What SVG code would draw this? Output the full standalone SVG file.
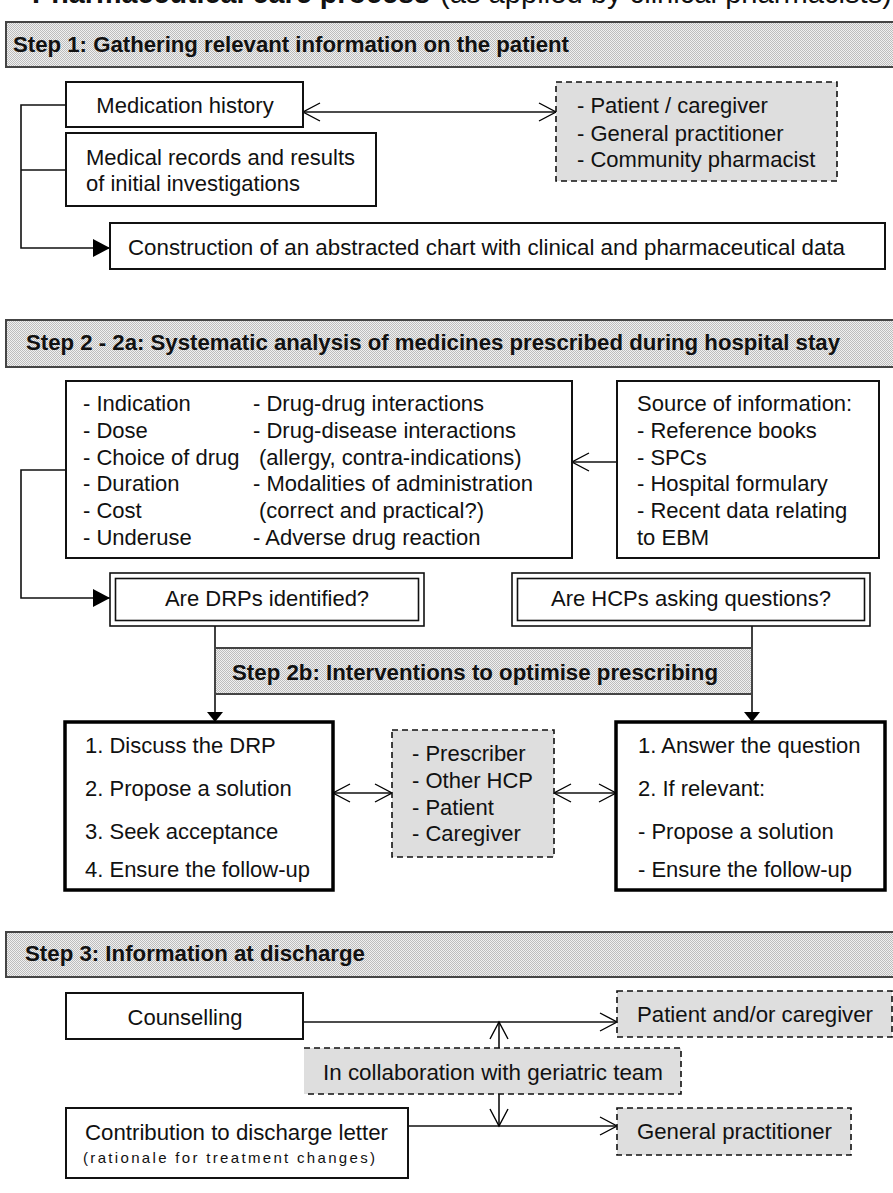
<svg xmlns="http://www.w3.org/2000/svg" width="893" height="1193" viewBox="0 0 893 1193">
<defs>
<pattern id="dots" width="2" height="2" patternUnits="userSpaceOnUse"><rect width="2" height="2" fill="#f0f0f0"/><rect width="1" height="1" fill="#bdbdbd"/><rect x="1" y="1" width="1" height="1" fill="#bdbdbd"/></pattern>
<marker id="open" viewBox="0 0 20 20" markerWidth="20" markerHeight="20" refX="18" refY="10" markerUnits="userSpaceOnUse" orient="auto-start-reverse"><path d="M1,1 L18,10 L1,19" fill="none" stroke="#000" stroke-width="1.4"/></marker>
<marker id="fill" viewBox="0 0 18 18" markerWidth="18" markerHeight="18" refX="17" refY="9" markerUnits="userSpaceOnUse" orient="auto"><path d="M0,0 L17,9 L0,18 Z" fill="#000"/></marker>
<marker id="fillS" viewBox="0 0 11 16" markerWidth="11" markerHeight="16" refX="10" refY="8" markerUnits="userSpaceOnUse" orient="auto"><path d="M0,0 L10,8 L0,16 Z" fill="#000"/></marker>
</defs>
<style>
text{font-family:"Liberation Sans",Arial,sans-serif;font-size:22px;fill:#111}
.hd{font-weight:bold}
.band{fill:url(#dots);stroke:#444;stroke-width:2}
.box{fill:#fff;stroke:#111;stroke-width:2}
.thick{fill:#fff;stroke:#000;stroke-width:3.5}
.dash{fill:#dedede;stroke:#111;stroke-width:1.6;stroke-dasharray:6 4}
.dfill{fill:#dedede;stroke:none}
.dline{fill:none;stroke:#111;stroke-width:1.6;stroke-dasharray:6 4}
.dbl{fill:none;stroke:#111;stroke-width:1.6}
.c{fill:none;stroke:#111;stroke-width:1.6}
.mid{text-anchor:middle}
</style>
<rect width="893" height="1193" fill="#fff"/>

<g id="title">
<text y="3" style="font-size:29px"><tspan x="32" class="hd" textLength="398" lengthAdjust="spacingAndGlyphs">Pharmaceutical care process</tspan><tspan x="440" textLength="452" lengthAdjust="spacingAndGlyphs">(as applied by clinical pharmacists)</tspan></text>
</g>

<g id="step1-header">
<rect class="band" x="6" y="22" width="900" height="45"/>
<text class="hd" x="13" y="52" textLength="556" lengthAdjust="spacingAndGlyphs">Step 1: Gathering relevant information on the patient</text>
</g>

<g id="step2-header">
<rect class="band" x="6" y="320" width="900" height="47"/>
<text class="hd" x="26" y="350" textLength="814" lengthAdjust="spacingAndGlyphs">Step 2 - 2a: Systematic analysis of medicines prescribed during hospital stay</text>
</g>

<g id="step3-header">
<rect class="band" x="6" y="932" width="900" height="45"/>
<text class="hd" x="25" y="961" textLength="340" lengthAdjust="spacingAndGlyphs">Step 3: Information at discharge</text>
</g>

<g id="connectors">
<path class="c" d="M66,105 H21 V248 H110" marker-end="url(#fill)"/>
<path class="c" d="M66,170 H21"/>
<path class="c" d="M303,112 H556" marker-start="url(#open)" marker-end="url(#open)"/>
<path class="c" d="M66,470 H21 V598 H110" marker-end="url(#fill)"/>
<path class="c" d="M617,462 H572" marker-end="url(#open)"/>
<path class="c" d="M215,626 V722" marker-end="url(#fillS)"/>
<path class="c" d="M752,626 V722" marker-end="url(#fillS)"/>
<path class="c" d="M333,793 H392" marker-start="url(#open)" marker-end="url(#open)"/>
<path class="c" d="M554,793 H616" marker-start="url(#open)" marker-end="url(#open)"/>
<path class="c" d="M303,1022 H617" marker-end="url(#open)"/>
<path class="c" d="M408,1126 H617" marker-end="url(#open)"/>
<path class="c" d="M499,1048 V1022" marker-end="url(#open)"/>
<path class="c" d="M499,1094 V1126" marker-end="url(#open)"/>
</g>

<g id="step2b-header">
<rect class="band" x="215" y="648" width="537" height="46"/>
<text class="hd" x="232" y="680" textLength="486" lengthAdjust="spacingAndGlyphs">Step 2b: Interventions to optimise prescribing</text>
</g>

<g id="medication-history">
<rect class="box" x="66" y="82" width="237" height="45"/>
<text class="mid" x="185" y="113">Medication history</text>
</g>

<g id="medical-records">
<rect class="box" x="66" y="133" width="310" height="73"/>
<text x="86" y="165">Medical records and results</text>
<text x="86" y="191">of initial investigations</text>
</g>

<g id="construction">
<rect class="box" x="110" y="223" width="775" height="46"/>
<text x="128" y="255" textLength="717" lengthAdjust="spacingAndGlyphs">Construction of an abstracted chart with clinical and pharmaceutical data</text>
</g>

<g id="contacts-step1">
<rect class="dash" x="556" y="82" width="281" height="99"/>
<text x="577" y="113">- Patient / caregiver</text>
<text x="577" y="141">- General practitioner</text>
<text x="577" y="167">- Community pharmacist</text>
</g>

<g id="criteria">
<rect class="box" x="66" y="381" width="506" height="177"/>
<text x="83" y="411">- Indication</text>
<text x="83" y="438">- Dose</text>
<text x="83" y="465">- Choice of drug</text>
<text x="83" y="491">- Duration</text>
<text x="83" y="518">- Cost</text>
<text x="83" y="545">- Underuse</text>
<text x="253" y="411">- Drug-drug interactions</text>
<text x="253" y="438">- Drug-disease interactions</text>
<text x="259" y="465">(allergy, contra-indications)</text>
<text x="253" y="491">- Modalities of administration</text>
<text x="259" y="518">(correct and practical?)</text>
<text x="253" y="545">- Adverse drug reaction</text>
</g>

<g id="information-sources">
<rect class="box" x="617" y="381" width="262" height="177"/>
<text x="637" y="411">Source of information:</text>
<text x="637" y="438">- Reference books</text>
<text x="637" y="465">- SPCs</text>
<text x="637" y="491">- Hospital formulary</text>
<text x="637" y="518">- Recent data relating</text>
<text x="637" y="545">to EBM</text>
</g>

<g id="drp-question">
<rect class="dbl" x="110" y="573" width="314" height="53" style="fill:#fff"/>
<rect class="dbl" x="115.5" y="578.5" width="303" height="42"/>
<text class="mid" x="267" y="606">Are DRPs identified?</text>
</g>

<g id="hcp-question">
<rect class="dbl" x="512" y="573" width="358" height="53" style="fill:#fff"/>
<rect class="dbl" x="517.5" y="578.5" width="347" height="42"/>
<text class="mid" x="691" y="606">Are HCPs asking questions?</text>
</g>

<g id="drp-actions">
<rect class="thick" x="65" y="722" width="268" height="168"/>
<text x="85" y="753">1. Discuss the DRP</text>
<text x="85" y="796">2. Propose a solution</text>
<text x="85" y="839">3. Seek acceptance</text>
<text x="85" y="877">4. Ensure the follow-up</text>
</g>

<g id="partners">
<rect class="dash" x="392" y="730" width="162" height="127"/>
<text x="412" y="761">- Prescriber</text>
<text x="412" y="788">- Other HCP</text>
<text x="412" y="815">- Patient</text>
<text x="412" y="841">- Caregiver</text>
</g>

<g id="hcp-actions">
<rect class="thick" x="616" y="722" width="269" height="168"/>
<text x="638" y="753">1. Answer the question</text>
<text x="638" y="796">2. If relevant:</text>
<text x="638" y="839">- Propose a solution</text>
<text x="638" y="877">- Ensure the follow-up</text>
</g>

<g id="counselling">
<rect class="box" x="66" y="993" width="237" height="46"/>
<text class="mid" x="185" y="1025">Counselling</text>
</g>

<g id="collaboration">
<rect class="dfill" x="304" y="1048" width="377" height="46"/>
<path class="dline" d="M304,1048 H681 V1094 H304"/>
<text x="323" y="1080" textLength="340" lengthAdjust="spacingAndGlyphs">In collaboration with geriatric team</text>
</g>

<g id="discharge-letter">
<rect class="box" x="66" y="1108" width="342" height="70"/>
<text x="85" y="1140" textLength="303" lengthAdjust="spacingAndGlyphs">Contribution to discharge letter</text>
<text x="83" y="1163" style="font-size:15px" textLength="292" lengthAdjust="spacing">(rationale for treatment changes)</text>
</g>

<g id="patient-caregiver">
<rect class="dash" x="617" y="991" width="275" height="46"/>
<text x="637" y="1022" textLength="236" lengthAdjust="spacingAndGlyphs">Patient and/or caregiver</text>
</g>

<g id="general-practitioner">
<rect class="dash" x="617" y="1108" width="234" height="47"/>
<text x="637" y="1139" textLength="195" lengthAdjust="spacingAndGlyphs">General practitioner</text>
</g>
</svg>
